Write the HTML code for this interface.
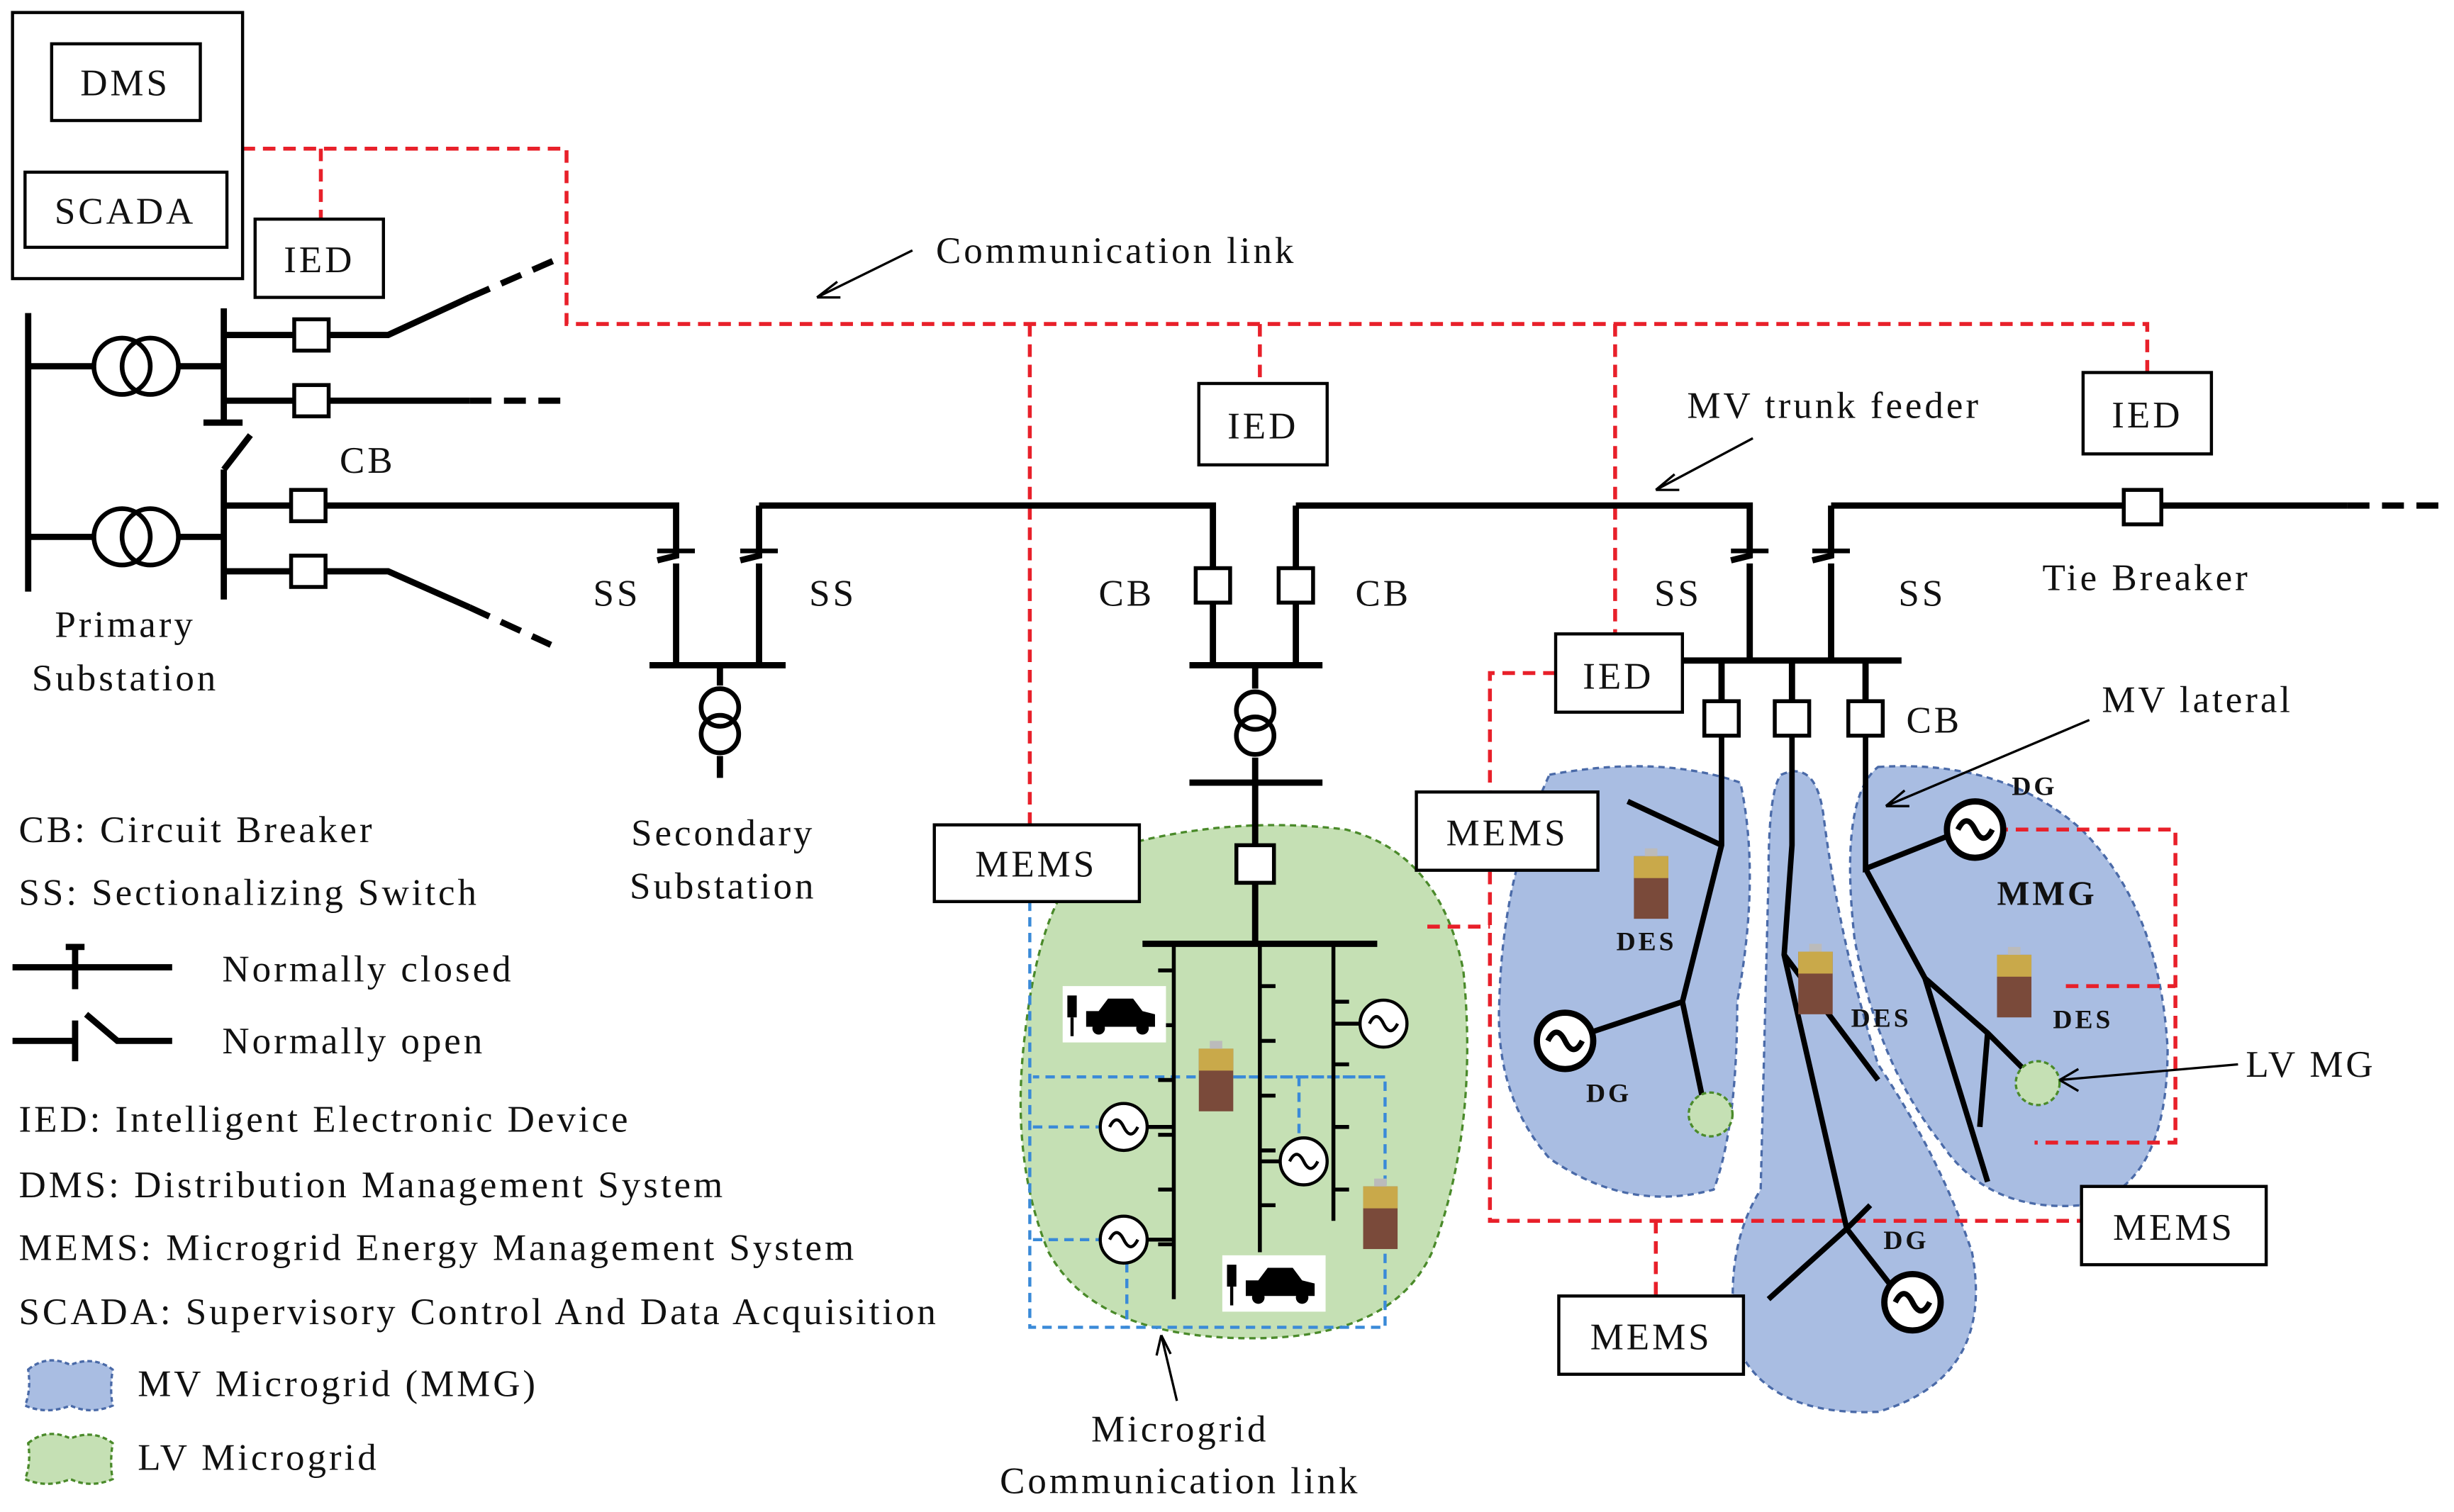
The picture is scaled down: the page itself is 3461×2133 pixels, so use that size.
<!DOCTYPE html>
<html><head><meta charset="utf-8"><style>
html,body{margin:0;padding:0;background:#fff;}
svg{display:block;}
text{font-family:"Liberation Serif",serif;fill:#111;letter-spacing:1.8px;}
</style></head><body>
<svg width="3461" height="2133" viewBox="0 0 1568 966" preserveAspectRatio="none" xmlns="http://www.w3.org/2000/svg">
<defs>
<g id="bat"><rect x="-11" y="-20" width="22" height="40" fill="#7a4a3a"/><rect x="-11" y="-20" width="22" height="14" fill="#c9a94a"/><rect x="-4" y="-25" width="8" height="5" fill="#bbb"/></g>
<g id="gen"><circle r="15" fill="#fff" stroke="#000" stroke-width="2"/><path d="M-9 0 Q-4.5 -9 0 0 T9 0" fill="none" stroke="#000" stroke-width="2"/></g>
<g id="genb"><circle r="18" fill="#fff" stroke="#000" stroke-width="4"/><path d="M-11 0 Q-5.5 -11 0 0 T11 0" fill="none" stroke="#000" stroke-width="3.5"/></g>
<g id="car"><rect x="-33" y="-18" width="66" height="36" fill="#fff"/><path d="M-18 8 L-18 -2 L-10 -2 L-4 -10 L12 -10 L18 -2 L26 0 L26 8 Z" fill="#000"/><circle cx="-10" cy="9" r="4" fill="#000"/><circle cx="18" cy="9" r="4" fill="#000"/><rect x="-30" y="-12" width="6" height="14" fill="#000"/><line x1="-27" y1="2" x2="-27" y2="14" stroke="#000" stroke-width="2"/></g>
</defs>
<path d="M700 545 Q780 520 860 530 Q920 545 935 620 Q945 720 915 800 Q890 855 800 855 Q700 855 670 800 Q645 740 655 660 Q665 570 700 545Z" fill="#c5e0b4" stroke="#4a8a2a" stroke-width="1.5" stroke-dasharray="4 3"/>
<path d="M990 495 Q1060 482 1112 500 Q1125 560 1110 640 Q1110 720 1095 760 Q1040 775 990 740 Q955 700 958 640 Q960 560 990 495Z" fill="#a9bde2" stroke="#4a6aa8" stroke-width="1.5" stroke-dasharray="4 3"/>
<path d="M1138 495 Q1160 485 1165 520 Q1175 600 1200 680 Q1240 740 1260 800 Q1275 880 1200 902 Q1130 905 1110 860 Q1100 800 1125 760 Q1128 640 1130 560 Q1130 505 1138 495Z" fill="#a9bde2" stroke="#4a6aa8" stroke-width="1.5" stroke-dasharray="4 3"/>
<path d="M1200 490 Q1280 485 1330 530 Q1380 580 1385 670 Q1385 760 1330 770 Q1270 775 1240 730 Q1200 680 1185 600 Q1175 510 1200 490Z" fill="#a9bde2" stroke="#4a6aa8" stroke-width="1.5" stroke-dasharray="4 3"/>
<g fill="none" stroke="#e8202a" stroke-width="2.5" stroke-dasharray="8 5">
<path d="M155 95 H362 V207 H1372 V238"/><path d="M205 95 V140"/><path d="M658 207 V527"/><path d="M805 207 V245"/><path d="M1032 207 V405"/>
<path d="M994 430 H952 V780 H1390 V760"/><path d="M912 592 H952"/><path d="M1058 780 V828"/>
<path d="M1275 530 H1390 V730 H1300"/><path d="M1320 630 H1390"/>
</g>
<g fill="none" stroke="#3a8ad8" stroke-width="2" stroke-dasharray="6 4">
<path d="M658 576 V848 H885 V688 H660"/><path d="M660 720 H705"/><path d="M660 792 H705"/><path d="M720 807 V848"/><path d="M830 688 V740"/><path d="M780 688 H885"/>
</g>
<g fill="#fff" stroke="#000" stroke-width="2">
<rect x="8" y="8" width="147" height="170"/><rect x="33" y="28" width="95" height="49"/><rect x="16" y="110" width="129" height="48"/>
<rect x="163" y="140" width="82" height="50"/><rect x="766" y="245" width="82" height="52"/><rect x="1331" y="238" width="82" height="52"/><rect x="994" y="405" width="81" height="50"/>
<rect x="597" y="527" width="131" height="49"/><rect x="905" y="506" width="116" height="50"/><rect x="996" y="828" width="118" height="50"/><rect x="1330" y="758" width="118" height="50"/>
</g>
<g font-size="24" text-anchor="middle">
<text x="80" y="61">DMS</text><text x="80" y="143">SCADA</text><text x="204" y="174">IED</text><text x="807" y="280">IED</text><text x="1372" y="273">IED</text><text x="1034" y="440">IED</text>
<text x="662" y="560">MEMS</text><text x="963" y="540">MEMS</text><text x="1055" y="862">MEMS</text><text x="1389" y="792">MEMS</text>
</g>
<g fill="none" stroke="#000" stroke-width="4">
<path d="M18 200 V378"/><path d="M18 234 H60 M114 234 H143"/><path d="M18 343 H60 M114 343 H143"/>
<path d="M143 197 V270 M130 270 H155"/><path d="M143 300 V383"/><path d="M143 300 L160 278"/>
<path d="M143 214 H248 L300 190"/><path d="M143 256 H300"/><path d="M143 365 H248 L300 388"/>
<path d="M143 323 H432 V355 L420 358 M432 360 V425 M485 323 H775 V425 M485 323 V355 L473 358 M485 360 V425"/>
<path d="M415 425 H502 M460 425 V438 M460 483 V497"/>
<path d="M828 323 V425 M760 425 H845 M802 425 V440 M802 484 V500 M760 500 H845 M802 500 V540 M802 564 V603 M730 603 H880"/>
<path d="M828 323 H1118 V355 L1106 358 M1118 360 V422 M1170 323 V355 L1158 358 M1170 360 V422 M1170 323 H1500 M1075 422 H1215"/>
<path d="M1100 422 V448 M1145 422 V448 M1192 422 V448"/>
</g>
<g fill="none" stroke="#000" stroke-width="4" stroke-dasharray="14 8"><path d="M300 190 L355 166"/><path d="M300 256 H360"/><path d="M300 388 L352 412"/><path d="M1500 323 H1560"/></g>
<g stroke="#000" stroke-width="3"><line x1="420" y1="352" x2="444" y2="352"/><line x1="473" y1="352" x2="497" y2="352"/><line x1="1106" y1="352" x2="1130" y2="352"/><line x1="1158" y1="352" x2="1182" y2="352"/></g>
<g fill="none" stroke="#000" stroke-width="3">
<circle cx="78" cy="234" r="18"/><circle cx="96" cy="234" r="18"/><circle cx="78" cy="343" r="18"/><circle cx="96" cy="343" r="18"/>
<circle cx="460" cy="452" r="12"/><circle cx="460" cy="469" r="12"/><circle cx="802" cy="454" r="12"/><circle cx="802" cy="470" r="12"/>
</g>
<g fill="#fff" stroke="#000" stroke-width="2.5">
<rect x="188" y="204" width="22" height="20"/><rect x="188" y="246" width="22" height="20"/><rect x="186" y="313" width="22" height="20"/><rect x="186" y="355" width="22" height="20"/>
<rect x="764" y="363" width="22" height="22"/><rect x="817" y="363" width="22" height="22"/><rect x="790" y="540" width="24" height="24"/>
<rect x="1357" y="313" width="24" height="22"/><rect x="1089" y="448" width="22" height="22"/><rect x="1134" y="448" width="22" height="22"/><rect x="1181" y="448" width="22" height="22"/>
</g>
<g stroke="#000" stroke-width="2.5" fill="none">
<path d="M750 603 V830 M805 603 V800 M852 603 V780"/>
<path d="M740 620 H750 M740 655 H750 M740 690 H750 M740 725 H750 M740 760 H750 M740 795 H750 M805 630 H815 M805 665 H815 M805 700 H815 M805 735 H815 M805 770 H815 M852 640 H862 M852 680 H862 M852 720 H862 M852 760 H862"/>
<path d="M733 720 H750 M733 792 H750 M852 654 H870 M805 742 H818"/>
</g>
<use href="#car" x="712" y="648"/><use href="#car" x="814" y="820"/>
<use href="#gen" x="718" y="720"/><use href="#gen" x="718" y="792"/><use href="#gen" x="884" y="654"/><use href="#gen" x="833" y="742"/>
<use href="#bat" x="777" y="690"/><use href="#bat" x="882" y="778"/>
<g stroke="#000" stroke-width="3.5" fill="none">
<path d="M1100 470 V540 L1075 640 L1090 712 M1100 540 L1040 512 M1075 640 L1000 665"/>
<path d="M1145 470 V540 L1140 610 L1180 785 L1215 830 M1140 610 L1200 690 M1180 785 L1130 830 M1180 785 L1195 770"/>
<path d="M1192 470 V555 L1255 530 M1192 555 L1230 625 L1270 660 L1300 690 M1230 625 L1270 755 M1270 660 L1265 720"/>
</g>
<use href="#genb" x="1000" y="665"/><use href="#genb" x="1262" y="530"/><use href="#genb" x="1222" y="832"/>
<use href="#bat" x="1055" y="567"/><use href="#bat" x="1160" y="628"/><use href="#bat" x="1287" y="630"/>
<circle cx="1093" cy="712" r="14" fill="#c5e0b4" stroke="#4a8a2a" stroke-width="1.5" stroke-dasharray="3 2"/>
<circle cx="1302" cy="692" r="14" fill="#c5e0b4" stroke="#4a8a2a" stroke-width="1.5" stroke-dasharray="3 2"/>
<g font-size="17" font-weight="bold" text-anchor="middle"><text x="1052" y="607">DES</text><text x="1202" y="656">DES</text><text x="1331" y="657">DES</text><text x="1028" y="704">DG</text><text x="1300" y="508">DG</text><text x="1218" y="798">DG</text></g>
<text x="1308" y="578" font-size="22" font-weight="bold" text-anchor="middle">MMG</text>
<g stroke="#000" stroke-width="1.5" fill="none">
<path d="M583 160 L522 190 M522 190 L535 180 M522 190 L537 190"/>
<path d="M1120 280 L1058 313 M1058 313 L1070 303 M1058 313 L1073 313"/>
<path d="M1335 460 L1205 515 M1205 515 L1217 505 M1205 515 L1220 515"/>
<path d="M1430 680 L1316 690 M1316 690 L1328 683 M1316 690 L1328 697"/>
<path d="M752 895 L742 853 M742 853 L739 866 M742 853 L748 865"/>
</g>
<g font-size="24">
<text x="598" y="168">Communication link</text><text x="1078" y="267">MV trunk feeder</text><text x="1305" y="377">Tie Breaker</text>
<text x="217" y="302">CB</text><text x="379" y="387">SS</text><text x="517" y="387">SS</text><text x="702" y="387">CB</text><text x="866" y="387">CB</text>
<text x="1057" y="387">SS</text><text x="1213" y="387">SS</text><text x="1218" y="468">CB</text><text x="1343" y="455">MV lateral</text><text x="1435" y="688">LV MG</text>
<text x="80" y="407" text-anchor="middle">Primary</text><text x="80" y="441" text-anchor="middle">Substation</text>
<text x="462" y="540" text-anchor="middle">Secondary</text><text x="462" y="574" text-anchor="middle">Substation</text>
<text x="754" y="921" text-anchor="middle">Microgrid</text><text x="754" y="954" text-anchor="middle">Communication link</text>
<text x="12" y="538">CB: Circuit Breaker</text><text x="12" y="578">SS: Sectionalizing Switch</text>
<text x="142" y="627">Normally closed</text><text x="142" y="673">Normally open</text>
<text x="12" y="723">IED: Intelligent Electronic Device</text><text x="12" y="765">DMS: Distribution Management System</text>
<text x="12" y="805">MEMS: Microgrid Energy Management System</text><text x="12" y="846">SCADA: Supervisory Control And Data Acquisition</text>
<text x="88" y="892">MV Microgrid (MMG)</text><text x="88" y="939">LV Microgrid</text>
</g>
<g stroke="#000" stroke-width="4" fill="none">
<path d="M8 618 H110 M48 605 V632 M42 605 H54"/>
<path d="M8 665 H48 M48 652 V678 M55 648 L75 665 H110"/>
</g>
<path d="M18 875 Q30 865 45 872 Q60 866 72 875 Q70 888 72 898 Q58 904 45 898 Q30 904 16 898 Q20 888 18 875Z" fill="#a9bde2" stroke="#4a6aa8" stroke-width="1.5" stroke-dasharray="3 2"/>
<path d="M18 922 Q30 912 45 919 Q60 913 72 922 Q70 935 72 945 Q58 951 45 945 Q30 951 16 945 Q20 935 18 922Z" fill="#c5e0b4" stroke="#4a8a2a" stroke-width="1.5" stroke-dasharray="3 2"/>
</svg>
</body></html>
